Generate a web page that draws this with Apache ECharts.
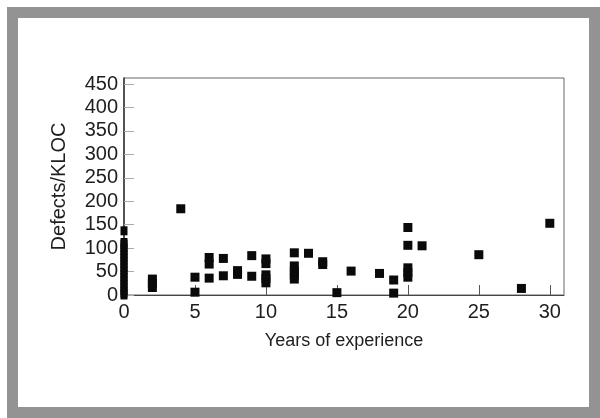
<!DOCTYPE html>
<html>
<head>
<meta charset="utf-8">
<script src="https://cdn.jsdelivr.net/npm/echarts@6/dist/echarts.min.js"></script>
<style>
  html, body { margin: 0; padding: 0; background: #fff; }
  #chart { width: 600px; height: 418px; }
</style>
</head>
<body>
<div id="chart"></div>
<script>
// Years of experience (x) and Defects/KLOC (y), one entry per point
const years = [
  0, 0, 0, 0, 0, 0, 0, 0, 0, 0, 0, 0, 0, 0, 0, 0, 0, 0, 0,
  2, 2, 2,
  4,
  5, 5,
  6, 6, 6,
  7, 7,
  8, 8,
  9, 9,
  10, 10, 10, 10, 10,
  12, 12, 12, 12, 12,
  13,
  14, 14,
  15,
  16,
  18,
  19, 19,
  20, 20, 20, 20, 20,
  21,
  25,
  28,
  30
];
const defects = [
  0, 4, 10, 17, 24, 31, 38, 45, 52, 59, 66, 73, 80, 87, 94, 101, 108, 112, 137,
  16, 25, 34,
  184,
  6, 38,
  36, 66, 80,
  41, 78,
  44, 52,
  40, 84,
  26, 35, 43, 67, 77,
  34, 43, 52, 62, 90,
  89,
  65, 71,
  5,
  51,
  46,
  4, 32,
  38, 48, 58, 106, 144,
  105,
  86,
  14,
  153
];
const xTitle = 'Years of experience';
const yTitle = 'Defects/KLOC';

const points = years.map((x, i) => [x, defects[i]]);
const font = 'Liberation Sans';

const chart = echarts.init(document.getElementById('chart'), null, { renderer: 'canvas' });
chart.setOption({
  animation: false,
  backgroundColor: '#ffffff',
  graphic: {
    elements: [
      { type: 'rect', z: -100, silent: true, shape: { x: 7, y: 7, width: 593, height: 411 }, style: { fill: '#939393' } },
      { type: 'rect', z: -99, silent: true, shape: { x: 18, y: 18, width: 571, height: 389 }, style: { fill: '#ffffff' } }
    ]
  },
  grid: {
    left: 124, right: 36, top: 78, bottom: 123,
    show: true, borderColor: '#666', borderWidth: 1, backgroundColor: 'transparent'
  },
  xAxis: {
    type: 'value', min: 0, max: 31, interval: 5,
    splitLine: { show: false },
    axisLine: { show: true, lineStyle: { color: '#444', width: 1 } },
    axisTick: { show: true, inside: true, length: 10, lineStyle: { color: '#555' } },
    axisLabel: { fontSize: 20, color: '#1e1e1e', margin: 7, fontFamily: font, showMaxLabel: false },
    name: xTitle, nameLocation: 'middle', nameGap: 37,
    nameTextStyle: { fontSize: 18, color: '#1e1e1e', fontFamily: font }
  },
  yAxis: {
    type: 'value', min: 0, max: 463, interval: 50,
    splitLine: { show: false },
    axisLine: { show: true, lineStyle: { color: '#333', width: 1.5 } },
    axisTick: { show: true, inside: true, length: 10, lineStyle: { color: '#aaa' } },
    axisLabel: { fontSize: 20, color: '#1e1e1e', margin: 6, fontFamily: font, showMaxLabel: false },
    name: yTitle, nameLocation: 'middle', nameGap: 55,
    nameTextStyle: { fontSize: 20, color: '#1e1e1e', fontFamily: font }
  },
  series: [{
    type: 'scatter',
    data: points,
    symbol: 'rect',
    symbolSize: function (val) { return val[0] === 0 ? [7, 9] : 9; },
    itemStyle: { color: '#0a0a0a', opacity: 1 },
    clip: false
  }]
});
</script>
</body>
</html>
